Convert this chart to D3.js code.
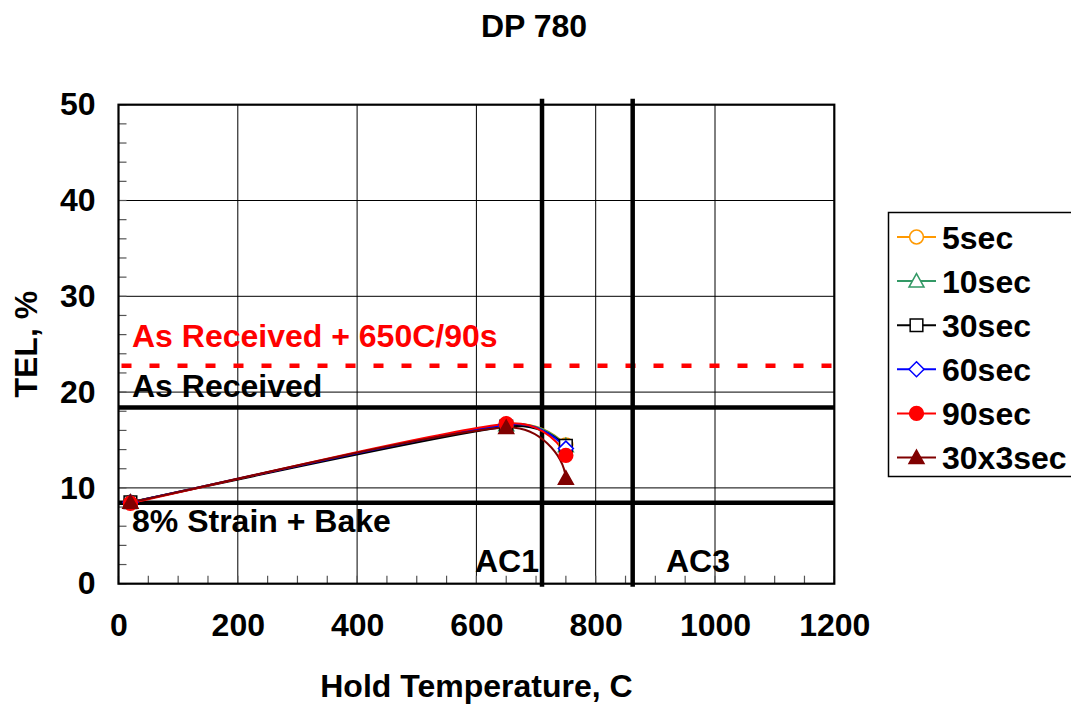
<!DOCTYPE html>
<html><head><meta charset="utf-8">
<script src="https://cdn.jsdelivr.net/npm/d3@7"></script>
<style>
body{margin:0;background:#fff}
text{font-family:Arial,"Liberation Sans",sans-serif;font-weight:bold}
</style>
</head><body>
<svg id="c" width="1071" height="704"></svg>
<script>
// ---- data ----
const temps = [20, 650, 750];
const tel5sec   = [8.5, 16.6, 14.5];
const tel10sec  = [8.5, 16.6, 14.4];
const tel30sec  = [8.5, 16.4, 14.4];
const tel60sec  = [8.5, 16.6, 14.1];
const tel90sec  = [8.4, 16.7, 13.4];
const tel30x3sec = [8.5, 16.3, 11.0];
const seriesNames = ["5sec", "10sec", "30sec", "60sec", "90sec", "30x3sec"];
const seriesValues = [tel5sec, tel10sec, tel30sec, tel60sec, tel90sec, tel30x3sec];
const xTickValues = [0, 200, 400, 600, 800, 1000, 1200];
const yTickValues = [0, 10, 20, 30, 40, 50];
const refLevels = { asReceived: 18.4, asReceived650: 22.75, strainBake: 8.45 };
const acTemps = { AC1: 710, AC3: 862 };

// ---- styles ----
const colors = ["#FF9900", "#339966", "#000000", "#0000FF", "#FF0000", "#800000"];
const shapes = ["circle", "triangle", "square", "diamond", "circle", "triangle"];
const filled = [false, false, false, false, true, true];

const svg = d3.select("#c");
const L = 118.5, R = 834.3, T = 104.7, B = 583.7;
const x = d3.scaleLinear().domain([0, 1200]).range([L, R]);
const y = d3.scaleLinear().domain([0, 50]).range([B, T]);
const FS = 32;

// title
svg.append("text").attr("x", 534).attr("y", 37).attr("text-anchor", "middle")
  .attr("font-size", FS).text("DP 780");

// gridlines
const g = svg.append("g");
g.selectAll(".vg").data(xTickValues.slice(1, -1)).join("line")
  .attr("x1", d => x(d)).attr("x2", d => x(d)).attr("y1", T).attr("y2", B)
  .attr("stroke", "#000").attr("stroke-width", 1);
g.selectAll(".hg").data(yTickValues.slice(1, -1)).join("line")
  .attr("x1", L).attr("x2", R).attr("y1", d => y(d)).attr("y2", d => y(d))
  .attr("stroke", "#000").attr("stroke-width", 1);

// minor ticks (inside)
const xMinor = d3.range(0, 1201, 50);
const yMinor = d3.range(0, 51, 2);
g.selectAll(".xm").data(xMinor).join("line")
  .attr("x1", d => x(d)).attr("x2", d => x(d)).attr("y1", B).attr("y2", B - 8)
  .attr("stroke", "#555").attr("stroke-width", 1.2);
g.selectAll(".ym").data(yMinor).join("line")
  .attr("x1", L).attr("x2", L + 8).attr("y1", d => y(d)).attr("y2", d => y(d))
  .attr("stroke", "#555").attr("stroke-width", 1.2);

// frame
svg.append("rect").attr("x", L).attr("y", T).attr("width", R - L).attr("height", B - T)
  .attr("fill", "none").attr("stroke", "#000").attr("stroke-width", 2.2);

// axes labels via d3 axes
const xAxis = svg.append("g").attr("transform", `translate(0,${B})`)
  .call(d3.axisBottom(x).tickValues(xTickValues).tickSize(0).tickPadding(60).tickFormat(d3.format("d")));
xAxis.select(".domain").remove();
xAxis.selectAll("text").attr("font-size", FS).attr("fill", "#000")
  .attr("font-family", "Arial, 'Liberation Sans', sans-serif").attr("font-weight", "bold").attr("dy", "-0.25em");

const yAxis = svg.append("g").attr("transform", `translate(${L},0)`)
  .call(d3.axisLeft(y).tickValues(yTickValues).tickSize(0).tickPadding(23).tickFormat(d3.format("d")));
yAxis.select(".domain").remove();
yAxis.selectAll("text").attr("font-size", FS).attr("fill", "#000")
  .attr("font-family", "Arial, 'Liberation Sans', sans-serif").attr("font-weight", "bold");

svg.append("text").attr("x", (L + R) / 2).attr("y", 697).attr("text-anchor", "middle")
  .attr("font-size", FS).text("Hold Temperature, C");
svg.append("text").attr("transform", `translate(37,${(T + B) / 2}) rotate(-90)`)
  .attr("text-anchor", "middle").attr("font-size", FS).text("TEL, %");

// reference lines
svg.append("line").attr("x1", L).attr("x2", R)
  .attr("y1", y(refLevels.asReceived)).attr("y2", y(refLevels.asReceived))
  .attr("stroke", "#000").attr("stroke-width", 4.5);
svg.append("line").attr("x1", L).attr("x2", R)
  .attr("y1", y(refLevels.strainBake)).attr("y2", y(refLevels.strainBake))
  .attr("stroke", "#000").attr("stroke-width", 4.5);
svg.append("line").attr("x1", L + 3).attr("x2", R)
  .attr("y1", y(refLevels.asReceived650)).attr("y2", y(refLevels.asReceived650))
  .attr("stroke", "#FF0000").attr("stroke-width", 4.5).attr("stroke-dasharray", "10,18");
Object.values(acTemps).forEach(v => {
  svg.append("line").attr("x1", x(v)).attr("x2", x(v)).attr("y1", T - 6).attr("y2", B + 3)
    .attr("stroke", "#000").attr("stroke-width", 4.5);
});

// annotations
svg.append("text").attr("x", 132).attr("y", 347).attr("font-size", FS).attr("fill", "#FF0000")
  .text("As Received + 650C/90s");
svg.append("text").attr("x", 132).attr("y", 397).attr("font-size", FS).text("As Received");
svg.append("text").attr("x", 132).attr("y", 532).attr("font-size", FS).text("8% Strain + Bake");
svg.append("text").attr("x", x(acTemps.AC1) - 3).attr("y", 572).attr("text-anchor", "end")
  .attr("font-size", FS).text("AC1");
svg.append("text").attr("x", 698).attr("y", 572).attr("text-anchor", "middle")
  .attr("font-size", FS).text("AC3");

// markers
function markerPath(shape) {
  if (shape === "circle") return d3.symbol(d3.symbolCircle, 150)();
  if (shape === "square") return d3.symbol(d3.symbolSquare, 160)();
  if (shape === "triangle") return "M0,-7.5L7.5,6L-7.5,6Z";
  if (shape === "diamond") return "M0,-7.5L7.5,0L0,7.5L-7.5,0Z";
}

// smoothed line (Excel-like Bezier): Catmull-Rom tangents (1/6 of neighbour chord),
// limited to a fraction of each adjacent segment so short segments do not loop.
function smoothPath(P) {
  const n = P.length, k = 0.42;
  const dist = (a, b) => Math.hypot(b[0] - a[0], b[1] - a[1]);
  const p = d3.path();
  p.moveTo(P[0][0], P[0][1]);
  for (let i = 0; i < n - 1; i++) {
    const a = P[i], b = P[i + 1];
    const prev = P[Math.max(i - 1, 0)], next = P[Math.min(i + 2, n - 1)];
    const seg = dist(a, b);
    // control at a
    let c1x = (b[0] - prev[0]) / 6, c1y = (b[1] - prev[1]) / 6;
    let l1 = Math.hypot(c1x, c1y);
    if (l1 > k * seg) { c1x *= k * seg / l1; c1y *= k * seg / l1; }
    // control at b
    let c2x, c2y;
    if (i + 1 === n - 1 && n > 2) {
      // end: reflect incoming tangent about chord
      const ux = (b[0] - a[0]) / seg, uy = (b[1] - a[1]) / seg;
      const tl = Math.hypot(c1x, c1y), tx = c1x / tl, ty = c1y / tl;
      const d = tx * ux + ty * uy;
      const rx = 2 * d * ux - tx, ry = 2 * d * uy - ty;
      c2x = rx * seg * 0.3; c2y = ry * seg * 0.3;
    } else {
      c2x = (next[0] - a[0]) / 6; c2y = (next[1] - a[1]) / 6;
      const l2 = Math.hypot(c2x, c2y);
      if (l2 > k * seg) { c2x *= k * seg / l2; c2y *= k * seg / l2; }
    }
    p.bezierCurveTo(a[0] + c1x, a[1] + c1y, b[0] - c2x, b[1] - c2y, b[0], b[1]);
  }
  return p.toString();
}

seriesValues.forEach((vals, i) => {
  const pts = temps.map((t, j) => [x(t), y(vals[j])]);
  svg.append("path").attr("d", smoothPath(pts)).attr("fill", "none")
    .attr("stroke", colors[i]).attr("stroke-width", 2);
});
seriesValues.forEach((vals, i) => {
  const pts = temps.map((t, j) => [t, vals[j]]);
  svg.selectAll(null).data(pts).join("path")
    .attr("transform", d => `translate(${x(d[0])},${y(d[1])})`)
    .attr("d", markerPath(shapes[i]))
    .attr("fill", filled[i] ? colors[i] : "#fff")
    .attr("stroke", colors[i]).attr("stroke-width", 1.5);
});

// legend
const lg = svg.append("g");
lg.append("rect").attr("x", 888.5).attr("y", 212.5).attr("width", 200).attr("height", 264)
  .attr("fill", "#fff").attr("stroke", "#000").attr("stroke-width", 1.5);
seriesNames.forEach((name, i) => {
  const cy = 237 + i * 44.1;
  lg.append("line").attr("x1", 897).attr("x2", 936).attr("y1", cy).attr("y2", cy)
    .attr("stroke", colors[i]).attr("stroke-width", 2);
  lg.append("path").attr("transform", `translate(916.5,${cy})`).attr("d", markerPath(shapes[i]))
    .attr("fill", filled[i] ? colors[i] : "#fff").attr("stroke", colors[i]).attr("stroke-width", 1.5);
  lg.append("text").attr("x", 942).attr("y", cy + 11.5).attr("font-size", FS).text(name);
});
</script>
</body></html>
